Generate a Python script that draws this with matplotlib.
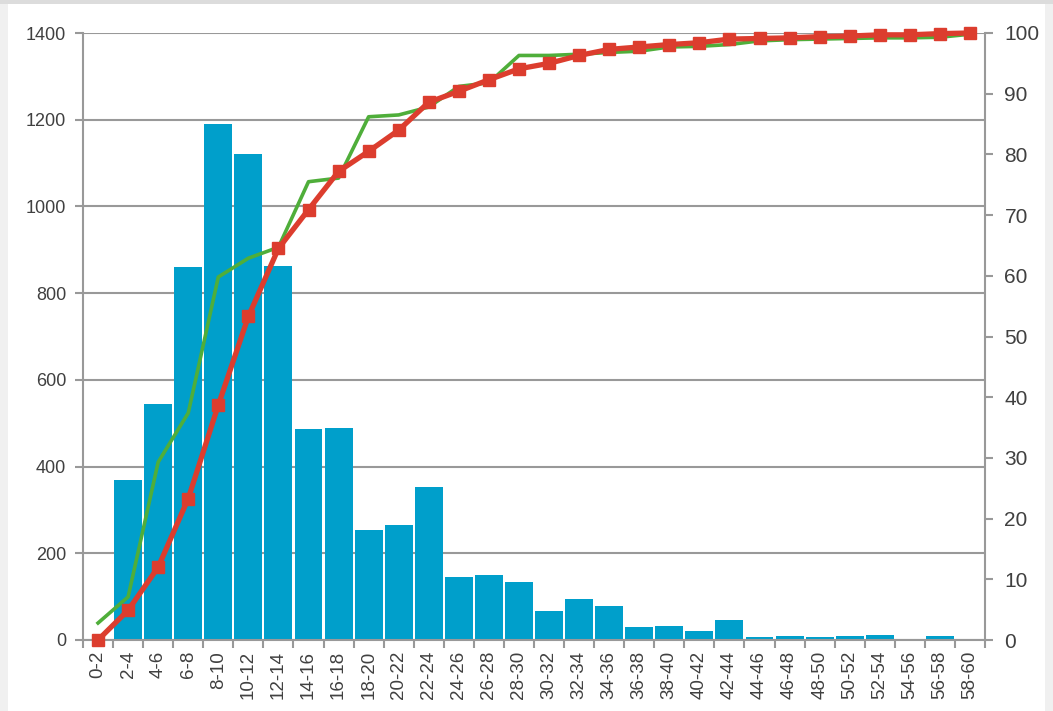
import numpy as np
import matplotlib
matplotlib.use("Agg")
import matplotlib.pyplot as plt
from matplotlib.patches import Rectangle

plt.rcParams['font.family'] = ['Liberation Sans', 'DejaVu Sans']

categories = ['0-2', '2-4', '4-6', '6-8', '8-10', '10-12', '12-14', '14-16', '16-18', '18-20',
              '20-22', '22-24', '24-26', '26-28', '28-30', '30-32', '32-34', '34-36', '36-38', '38-40',
              '40-42', '42-44', '44-46', '46-48', '48-50', '50-52', '52-54', '54-56', '56-58', '58-60']
counts = [0, 370, 545, 860, 1190, 1120, 862, 486, 489, 254,
          266, 352, 145, 150, 133, 67, 95, 79, 29, 32,
          21, 45, 6, 9, 8, 9, 12, 0, 9, 0]
cum_red = [0, 4.9, 12.0, 23.3, 38.7, 53.3, 64.5, 70.9, 77.2, 80.5,
           84.0, 88.6, 90.4, 92.3, 94.1, 95.0, 96.3, 97.3, 97.7, 98.1,
           98.4, 99.0, 99.1, 99.2, 99.4, 99.5, 99.7, 99.7, 99.9, 100.0]
cum_green = [2.8, 7.1, 29.3, 37.4, 59.8, 62.9, 64.7, 75.5, 76.1, 86.2,
             86.5, 87.8, 91.2, 91.8, 96.3, 96.3, 96.5, 96.8, 97.0, 97.7,
             97.8, 98.1, 98.7, 98.9, 99.0, 99.1, 99.2, 99.2, 99.3, 99.8]

gray = '#999999'
txt = '#404040'

fig = plt.figure(figsize=(10.53, 7.11), dpi=100)
fig.patch.set_facecolor('#f0f0f0')
fig.add_artist(Rectangle((8 / 1053, 0), 1037 / 1053, 1, transform=fig.transFigure,
                         facecolor='white', edgecolor='none', zorder=-10))
fig.add_artist(Rectangle((0, 1 - 4 / 711), 1, 4 / 711, transform=fig.transFigure,
                         facecolor='#dcdcdc', edgecolor='none', zorder=-9))

ax = fig.add_axes([83 / 1053, 71 / 711, 902 / 1053, 607 / 711])
ax.patch.set_alpha(0)
x = np.arange(len(categories))

ax.bar(x, counts, width=0.93, color='#009fcb', edgecolor='none', zorder=2)
ax.set_xlim(-0.5, len(categories) - 0.5)
ax.set_ylim(0, 1400)
ax.set_yticks(np.arange(0, 1401, 200))
ax.yaxis.grid(True, color=gray, linewidth=1.5, zorder=0)
ax.set_axisbelow(True)

ax.set_xticks(x)
ax.set_xticklabels(categories, rotation=90, fontsize=13.5, color=txt)
ax.set_xticks(np.arange(-0.5, len(categories)), minor=True)
ax.tick_params(axis='x', which='major', length=0, pad=8)
ax.tick_params(axis='x', which='minor', length=6, width=1.5, color=gray)
ax.tick_params(axis='y', length=6, width=1.5, color=gray, labelsize=13, labelcolor=txt, pad=6)

for side in ['top', 'right']:
    ax.spines[side].set_visible(False)
for side in ['left', 'bottom']:
    ax.spines[side].set_color(gray)
    ax.spines[side].set_linewidth(1.5)

ax2 = ax.twinx()
ax2.set_ylim(0, 100)
ax2.set_yticks(np.arange(0, 101, 10))
ax2.tick_params(axis='y', length=6, width=1.5, color=gray, labelsize=15, labelcolor=txt, pad=8)
for side in ['top', 'left', 'bottom']:
    ax2.spines[side].set_visible(False)
ax2.spines['right'].set_color(gray)
ax2.spines['right'].set_linewidth(1.5)

ax2.plot(x, cum_green, color='#4fae3a', linewidth=2.6, zorder=3, clip_on=False)
ax2.plot(x, cum_red, color='#dc3d2e', linewidth=3.8, marker='s', markersize=8.5,
         zorder=4, clip_on=False)

fig.savefig('out.png', dpi=100, facecolor=fig.get_facecolor())
